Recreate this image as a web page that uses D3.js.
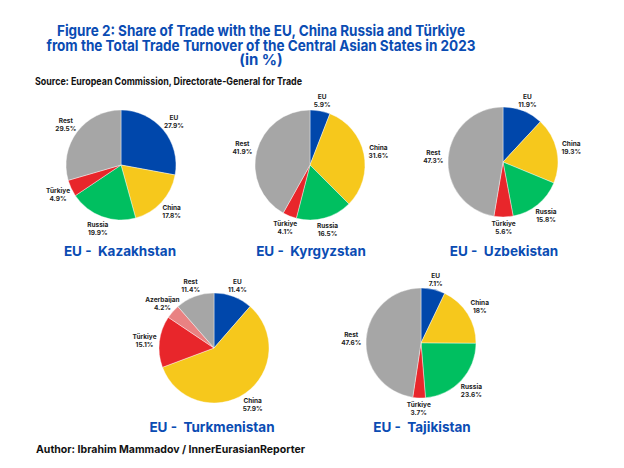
<!DOCTYPE html>
<html><head><meta charset="utf-8">
<script src="https://cdn.jsdelivr.net/npm/d3@7"></script>
<style>body{margin:0;background:#fff}svg{display:block}text{font-family:Inter,Roboto,"Noto Sans",sans-serif;font-weight:700}</style>
</head><body>
<svg id="c" width="624" height="468"></svg>
<script>
const categories = ["EU","China","Russia","Türkiye","Rest"];
const turkmenCategories = ["EU","China","Türkiye","Azerbaijan","Rest"];
const kazakhstan = [27.9,17.8,19.9,4.9,29.5];
const kyrgyzstan = [5.9,31.6,16.5,4.1,41.9];
const uzbekistan = [11.9,19.3,15.8,5.6,47.3];
const turkmenistan = [11.4,57.9,15.1,4.2,11.4];
const tajikistan = [7.1,18,23.6,3.7,47.6];
const countries = ["Kazakhstan","Kyrgyzstan","Uzbekistan","Turkmenistan","Tajikistan"];

const colors = {"EU":"#0047ab","China":"#f6c81c","Russia":"#00bf60","Türkiye":"#e8262b","Azerbaijan":"#e98282","Rest":"#a6a6a6"};

const svg = d3.select("#c");
const blue = "#0a4cb3";

const titleLines = [
  {t:"Figure 2: Share of Trade with the EU, China Russia and Türkiye", y:36, w:408},
  {t:"from the Total Trade Turnover of the Central Asian States in 2023", y:50.5, w:429},
  {t:"(in %)", y:65, w:null}
];
titleLines.forEach(l=>{
  const t = svg.append("text").attr("x",261).attr("y",l.y).attr("text-anchor","middle")
    .attr("fill",blue).style("font-size","15px").text(l.t);
  if(l.w) t.attr("textLength",l.w).attr("lengthAdjust","spacingAndGlyphs");
});
svg.append("text").attr("x",35).attr("y",85).attr("fill","#111").style("font-size","10.5px")
  .attr("textLength",267).attr("lengthAdjust","spacingAndGlyphs")
  .text("Source: European Commission, Directorate-General for Trade");
svg.append("text").attr("x",36).attr("y",453).attr("fill","#111").style("font-size","10.5px")
  .attr("textLength",269).attr("lengthAdjust","spacingAndGlyphs")
  .text("Author: Ibrahim Mammadov / InnerEurasianReporter");

const charts = [
  {name:countries[0], cats:categories, vals:kazakhstan, cx:121, cy:165, ty:256, tx:120},
  {name:countries[1], cats:categories, vals:kyrgyzstan, cx:310, cy:165, ty:256, tx:311},
  {name:countries[2], cats:categories, vals:uzbekistan, cx:503, cy:162, ty:256, tx:504},
  {name:countries[3], cats:turkmenCategories, vals:turkmenistan, cx:214, cy:348, ty:432, tx:212},
  {name:countries[4], cats:categories, vals:tajikistan, cx:421, cy:343, ty:432, tx:422}
];
const r = 55;
const pie = d3.pie().sort(null).value(d=>d.v);
const arc = d3.arc().innerRadius(0).outerRadius(r);
function labelPos(d){
  const a = (d.startAngle + d.endAngle)/2;
  const dist = 65 + 5*Math.abs(Math.sin(a));
  return [dist*Math.sin(a), -dist*Math.cos(a)];
}

charts.forEach(c=>{
  const data = c.cats.map((k,i)=>({k, v:c.vals[i]}));
  const g = svg.append("g").attr("transform",`translate(${c.cx},${c.cy})`);
  const arcs = pie(data);
  g.selectAll("path").data(arcs).join("path").attr("d",arc)
    .attr("fill",d=>colors[d.data.k]).attr("stroke","#fff").attr("stroke-width",0.4);
  const lab = g.selectAll("g.l").data(arcs).join("g").attr("class","l")
    .attr("transform",d=>`translate(${labelPos(d)})`);
  lab.append("text").attr("text-anchor","middle").attr("y",-1).attr("fill","#222")
    .style("font-size","6.5px").text(d=>d.data.k);
  lab.append("text").attr("text-anchor","middle").attr("y",7).attr("fill","#222")
    .style("font-size","6.5px").text(d=>d.data.v+"%");
  svg.append("text").attr("x",c.tx).attr("y",c.ty).attr("text-anchor","middle")
    .attr("fill",blue).style("font-size","13.5px").attr("xml:space","preserve").text("EU -  "+c.name);
});
</script>
</body></html>
